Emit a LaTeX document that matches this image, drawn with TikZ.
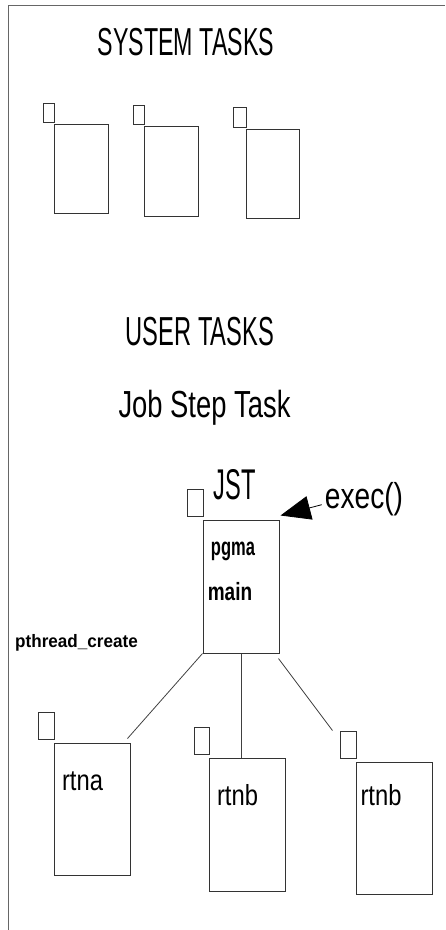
\documentclass[tikz,border=0pt]{standalone}
\usepackage{graphicx}
\usepackage{fontspec}
\setmainfont{Liberation Sans}
\usetikzlibrary{arrows.meta}
\newcommand\plottxt[3]{\scalebox{#1}[1]{\fontsize{#2}{#2}\selectfont #3}}
\begin{document}
\begin{tikzpicture}[x=1pt,y=-1pt,
  frameline/.style={draw=black!60, line width=1pt},
  taskbox/.style={draw=black!80, line width=1pt, inner sep=0pt, rectangle},
  lbl/.style={inner sep=0pt, anchor=base, text=black},
  link/.style={draw=black!75, line width=0.8pt}]
\useasboundingbox (0,0) rectangle (445,930);
% frame
\draw[frameline] (8,930) -- (8,5.5) -- (445,5.5);

% headings
\node[lbl] (systitle) at (186,55) {\plottxt{0.595}{39}{SYSTEM TASKS}};
\node[lbl] (usertitle) at (200,345) {\plottxt{0.585}{40.5}{USER TASKS}};
\node[lbl] (jsttitle) at (204.5,417) {\plottxt{0.726}{37.7}{Job Step Task}};

% system tasks
\node[taskbox, minimum width=54pt, minimum height=89pt] (s1) at (81,168.5) {};
\node[taskbox, minimum width=11pt, minimum height=19pt] (s1tab) at (48.5,112.5) {};
\node[taskbox, minimum width=54pt, minimum height=90pt] (s2) at (171,171) {};
\node[taskbox, minimum width=11pt, minimum height=19pt] (s2tab) at (138.5,114.5) {};
\node[taskbox, minimum width=53pt, minimum height=89pt] (s3) at (272.5,173.5) {};
\node[taskbox, minimum width=13pt, minimum height=20pt] (s3tab) at (239.5,117) {};

% job step task
\node[taskbox, minimum width=76pt, minimum height=133pt] (jst) at (241,586.5) {};
\node[taskbox, minimum width=16pt, minimum height=27pt] (jsttab) at (195,502.5) {};
\node[lbl] (jstlbl) at (235,499) {\plottxt{0.55}{43}{JST}};
\node[lbl] (pgma) at (233,555) {\plottxt{0.66}{25}{\bfseries pgma}};
\node[lbl] (mainlbl) at (230,600) {\plottxt{0.76}{25}{\bfseries main}};
\node[lbl] (exec) at (364,508) {\plottxt{0.78}{36}{exec()}};
\node[lbl] (pthread) at (76.5,647.5) {\plottxt{0.95}{18}{\bfseries pthread\_create}};

% threads
\node[taskbox, minimum width=76pt, minimum height=132pt] (rtna) at (92,809) {};
\node[taskbox, minimum width=16pt, minimum height=27pt] (rtnatab) at (46,725.5) {};
\node[lbl] (rtnalbl) at (82.5,790) {\plottxt{0.82}{29}{rtna}};
\node[taskbox, minimum width=76pt, minimum height=133pt] (rtnb1) at (247,824.5) {};
\node[taskbox, minimum width=15pt, minimum height=27pt] (rtnb1tab) at (201.5,740.5) {};
\node[lbl] (rtnb1lbl) at (237.5,805) {\plottxt{0.82}{29}{rtnb}};
\node[taskbox, minimum width=76pt, minimum height=132pt] (rtnb2) at (394,828) {};
\node[taskbox, minimum width=16pt, minimum height=27pt] (rtnb2tab) at (348,744.5) {};
\node[lbl] (rtnb2lbl) at (381,805) {\plottxt{0.82}{29}{rtnb}};

% connectors
\draw[link] (jst.south west) -- ([shift={(-3pt,4pt)}]rtna.north east);
\draw[link] (jst.south) -- (jst.south |- rtnb1.north);
\draw[link] ([shift={(-1pt,-5pt)}]jst.south east) -- ([xshift=-7pt]rtnb2tab.north west);
\draw[link, draw=black, -{Triangle[length=30pt,width=24pt]}] ([shift={(-3pt,-6pt)}]exec.west) -- ([shift={(1pt,4pt)}]jst.north east);
\end{tikzpicture}
\end{document}
